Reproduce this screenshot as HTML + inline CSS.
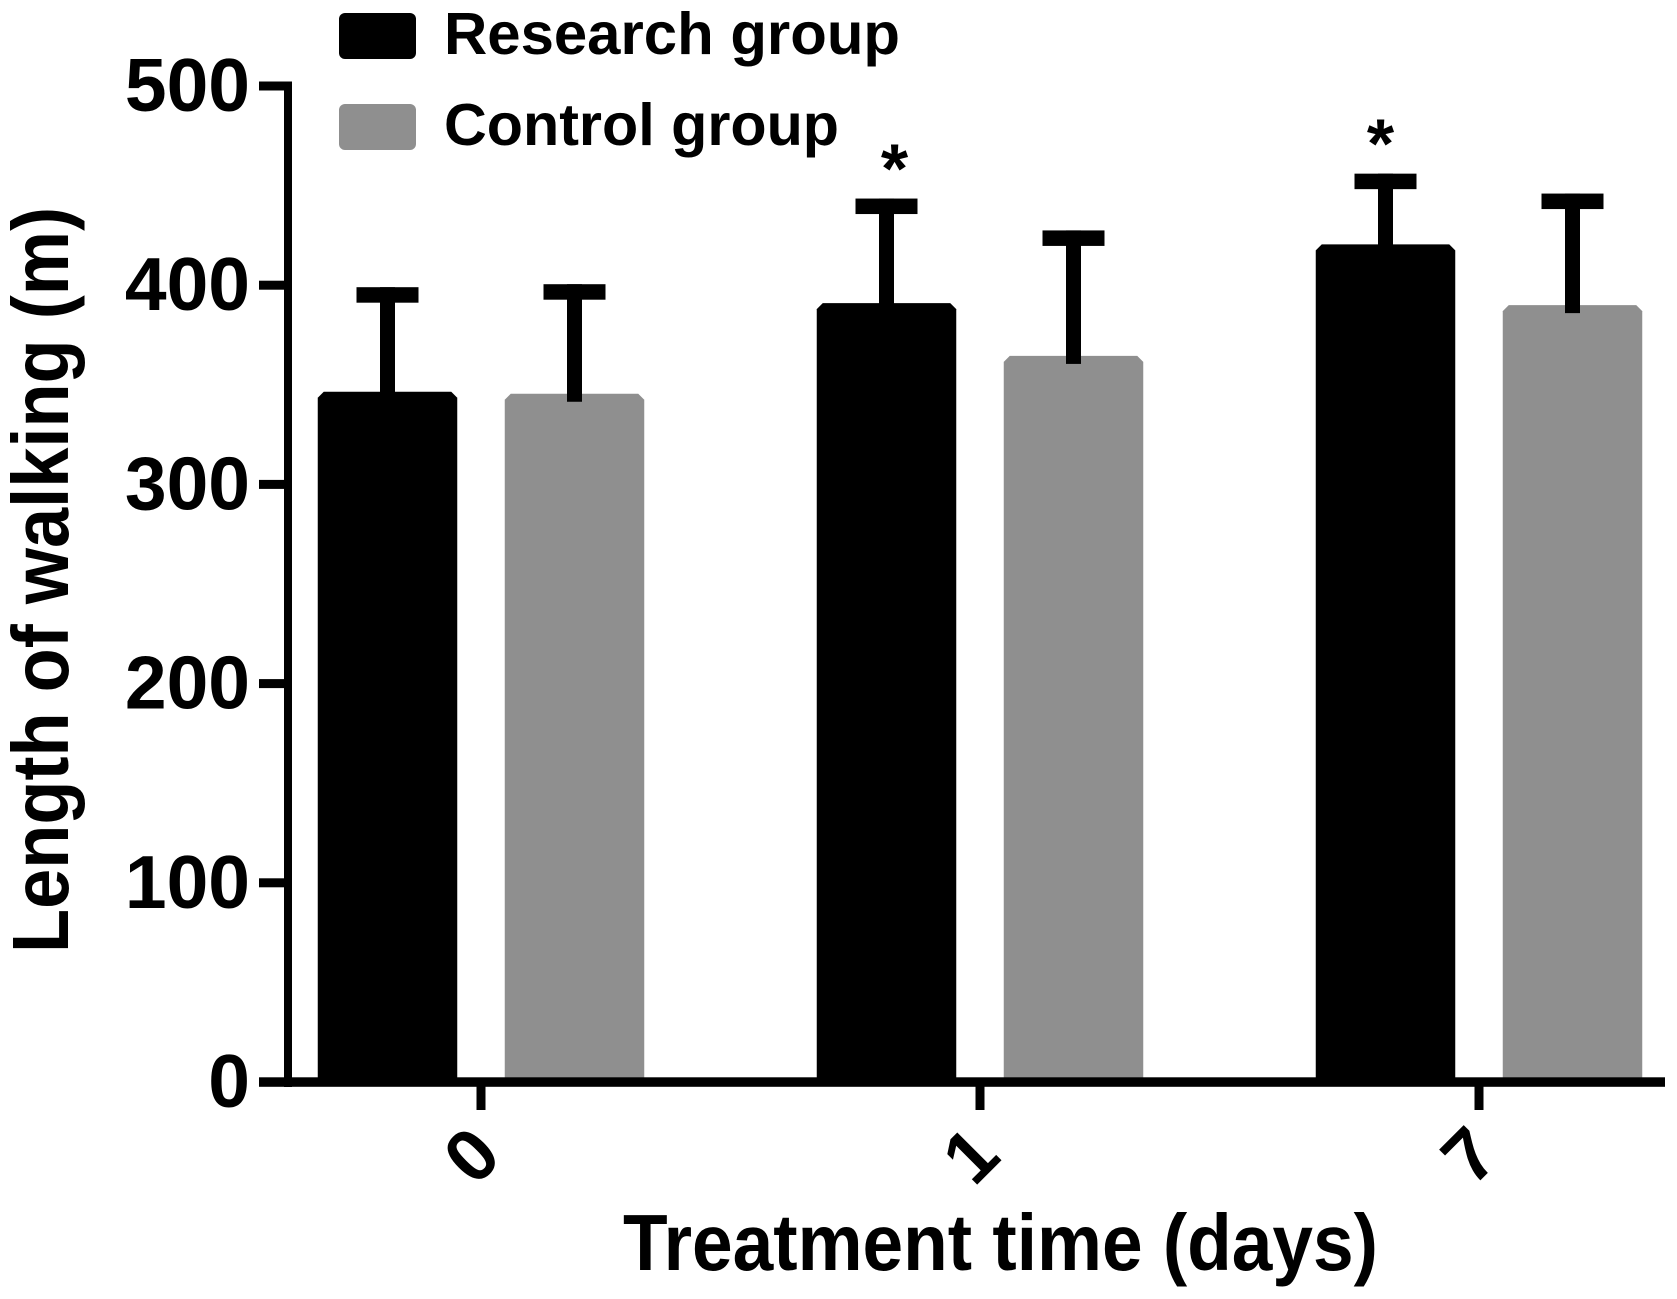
<!DOCTYPE html>
<html>
<head>
<meta charset="utf-8">
<title>Length of walking by treatment time</title>
<style>
  html, body { margin: 0; padding: 0; background: #fff; }
  svg { display: block; }
  text { font-family: "Liberation Sans", Arial, sans-serif; font-weight: bold; fill: #000; }
</style>
</head>
<body>
<svg id="chart" xmlns="http://www.w3.org/2000/svg" width="1677" height="1299" viewBox="0 0 1677 1299">
  <rect x="0" y="0" width="1677" height="1299" fill="#fff"/>
  <g id="bars"></g>
  <g id="axes"></g>
  <g id="legend">
    <g>
      <rect x="339" y="13" width="77" height="46" rx="6" fill="#000"/>
      <text x="444" y="54" font-size="59" textLength="456" lengthAdjust="spacingAndGlyphs">Research group</text>
    </g>
    <g>
      <rect x="339" y="104" width="77" height="46" rx="6" fill="#8f8f8f"/>
      <text x="444" y="145" font-size="59" textLength="395" lengthAdjust="spacingAndGlyphs">Control group</text>
    </g>
  </g>
  <text transform="translate(68 953) rotate(-90)" x="0" y="0" font-size="80" textLength="746" lengthAdjust="spacingAndGlyphs">Length of walking (m)</text>
  <text x="623" y="1270" font-size="80" textLength="755" lengthAdjust="spacingAndGlyphs">Treatment time (days)</text>
</svg>
<script>
const categories = ['0', '1', '7'];
const researchMeans = [346.5, 391, 420.5];
const controlMeans = [345.5, 364.5, 390];
const researchErrors = [52.5, 52.5, 35.5];
const controlErrors = [55, 63, 56];
const significant = [false, true, true];
const yTickValues = [0, 100, 200, 300, 400, 500];

const NS = 'http://www.w3.org/2000/svg';
const barsLayer = document.getElementById('bars');
const axesLayer = document.getElementById('axes');

function yScale(v) { return 1082 - v * 1.992; }
function xScale(i) { return 481 + i * 499; }

function make(tag, attrs, parent) {
  const el = document.createElementNS(NS, tag);
  for (const k in attrs) el.setAttribute(k, attrs[k]);
  parent.appendChild(el);
  return el;
}

const BAR_W = 139.5, OFFSET = 93.5, CHAMFER = 6;
const CAP_W = 62, CAP_H = 15.5, STEM_W = 15, STEM_OVERLAP = 8;

function drawBar(cx, mean, err, fill, group) {
  const top = yScale(mean), base = yScale(0);
  const l = cx - BAR_W / 2, r = cx + BAR_W / 2;
  const bar = make('path', { d: `M${l} ${base}V${top + CHAMFER}L${l + CHAMFER} ${top}H${r - CHAMFER}L${r} ${top + CHAMFER}V${base}Z`, fill: fill }, barsLayer);
  
  
  const errTop = yScale(mean + err);
  const stem = make('rect', { x: cx - STEM_W / 2, y: errTop, width: STEM_W, height: top + STEM_OVERLAP - errTop, fill: '#000' }, barsLayer);
  
  
  const cap = make('rect', { x: cx - CAP_W / 2, y: errTop, width: CAP_W, height: CAP_H, fill: '#000' }, barsLayer);
  
  
}

categories.forEach(function (cat, i) {
  const cx = xScale(i);
  drawBar(cx - OFFSET, researchMeans[i], researchErrors[i], '#000', 'research-day-' + cat);
  drawBar(cx + OFFSET, controlMeans[i], controlErrors[i], '#8f8f8f', 'control-day-' + cat);
  if (significant[i]) {
    const nudge = i === 1 ? 8 : -5;
    const star = make('text', { x: cx - OFFSET + nudge, y: yScale(researchMeans[i] + researchErrors[i]) - 6, 'text-anchor': 'middle', 'font-size': 70 }, barsLayer);
    
    
    star.textContent = '*';
  }
});

/* axis lines */
const yLine = make('rect', { x: 284, y: yScale(500) - 4.5, width: 8, height: yScale(0) - yScale(500) + 9.5, fill: '#000' }, axesLayer);


const xLine = make('rect', { x: 259, y: yScale(0) - 4.7, width: 1406, height: 9.5, fill: '#000' }, axesLayer);



yTickValues.forEach(function (v) {
  const y = yScale(v);
  const tick = make('rect', { x: 259, y: y - 4.5, width: 26, height: 9, fill: '#000' }, axesLayer);
  
  
  const label = make('text', { x: 250, y: y + 25, 'text-anchor': 'end', 'font-size': 75 }, axesLayer);
  
  
  label.textContent = String(v);
});

categories.forEach(function (cat, i) {
  const x = xScale(i);
  const tick = make('rect', { x: x - 4.5, y: yScale(0), width: 9, height: 28, fill: '#000' }, axesLayer);
  
  
  const label = make('text', { transform: `translate(${x - 10} 1155) rotate(-45)`, x: 0, y: 26, 'text-anchor': 'middle', 'font-size': 74 }, axesLayer);
  
  
  label.textContent = cat;
});
</script>
</body>
</html>
